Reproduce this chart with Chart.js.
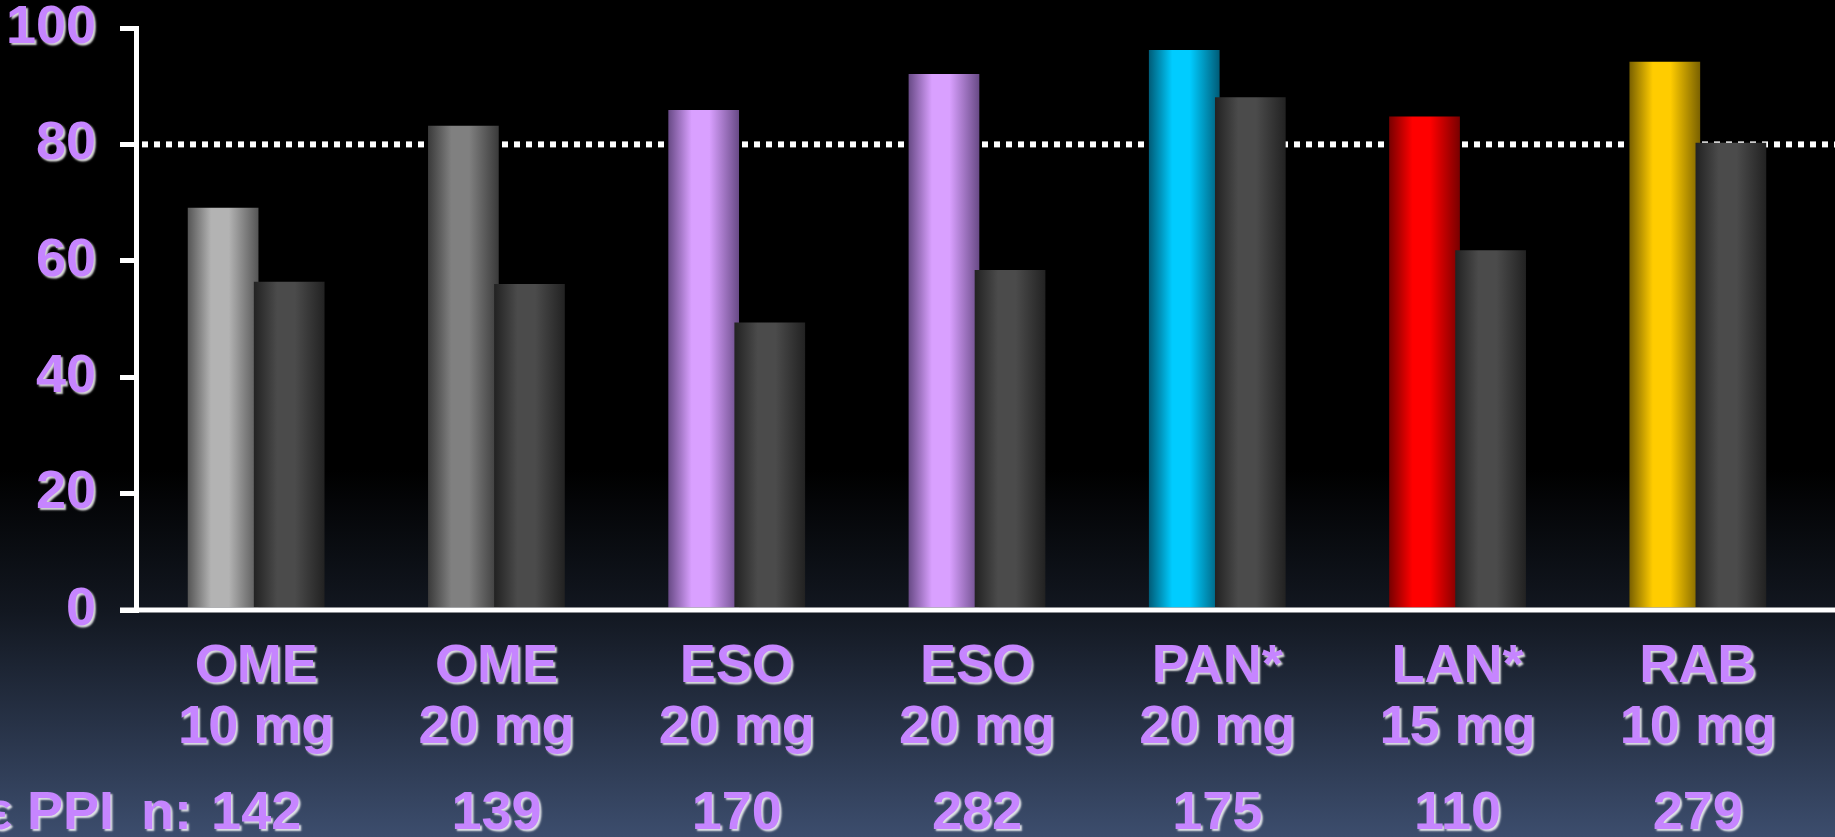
<!DOCTYPE html>
<html>
<head>
<meta charset="utf-8">
<script src="https://cdn.jsdelivr.net/npm/chart.js@4/dist/chart.umd.min.js"></script>
<style>
  html, body { margin: 0; padding: 0; }
  body {
    width: 1835px; height: 837px; overflow: hidden;
    background: linear-gradient(to bottom, #000 0px, #000 470px, #121720 610px, #3c4d6d 837px);
  }
  canvas { display: block; }
</style>
</head>
<body>
<canvas id="chart" width="1835" height="837"></canvas>
<script>
// data
const drugs = [
  ['OME', '10 mg'], ['OME', '20 mg'], ['ESO', '20 mg'], ['ESO', '20 mg'],
  ['PAN*', '20 mg'], ['LAN*', '15 mg'], ['RAB', '10 mg']
];
const patients = ['142', '139', '170', '282', '175', '110', '279'];
const ppiHealing = [69.1, 83.2, 85.9, 92.1, 96.2, 84.8, 94.2];
const otherHealing = [56.4, 56.0, 49.4, 58.4, 88.1, 61.8, 80.3];
const yTicks = [0, 20, 40, 60, 80, 100];
const targetLine = 80;
const rowLabel = 'σε PPI\u2002n:';

// bar colours (centre highlight / shaded edge)
const ppiMid = ['#b3b3b3', '#808080', '#d9a0ff', '#d9a0ff', '#00ccff', '#ff0000', '#ffcc00'];
const ppiEdge = ['#555555', '#3a3a3a', '#684a86', '#684a86', '#005c78', '#780000', '#7a6100'];
const otherMid = ppiMid.map(() => '#4b4b4b');
const otherEdge = ppiMid.map(() => '#222222');

const PURPLE = '#c685ff';
const FONT = { family: 'Liberation Sans', weight: 'bold', size: 54 };
const CAT_PCT = 0.55;
const BAR_PCT = 1.07;

function cylinder (c, mids, edges) {
  const chart = c.chart, x = chart.scales.x;
  const mid = mids[c.dataIndex], edge = edges[c.dataIndex];
  if (!x || c.type !== 'data') return mid;
  const step = x.getPixelForValue(1) - x.getPixelForValue(0);
  const slot = step * CAT_PCT / 2;
  const centre = x.getPixelForValue(c.dataIndex) + (c.datasetIndex - 0.5) * slot;
  const half = slot * BAR_PCT / 2;
  if (!isFinite(centre) || !isFinite(half) || half <= 0) return mid;
  const g = chart.ctx.createLinearGradient(centre - half, 0, centre + half, 0);
  g.addColorStop(0, edge);
  g.addColorStop(0.33, mid);
  g.addColorStop(0.58, mid);
  g.addColorStop(1, edge);
  return g;
}

function textShadow (ctx) {
  ctx.shadowColor = 'rgba(255,255,255,0.85)';
  ctx.shadowOffsetX = 2;
  ctx.shadowOffsetY = 2;
  ctx.shadowBlur = 2;
}

const slidePlugin = {
  id: 'slide',
  beforeDatasetsDraw (chart) {
    const ctx = chart.ctx, y = chart.scales.y.getPixelForValue(targetLine);
    ctx.save();
    ctx.strokeStyle = '#fff';
    ctx.lineWidth = 6;
    ctx.setLineDash([6, 6]);
    ctx.lineDashOffset = -6;
    ctx.beginPath();
    ctx.moveTo(chart.chartArea.left, y);
    ctx.lineTo(chart.width, y);
    ctx.stroke();
    ctx.restore();
  },
  // draw the datasets ourselves so the grey bar sits over its neighbour
  beforeDatasetDraw () {
    return false;
  },
  afterDatasetsDraw (chart) {
    const ctx = chart.ctx;
    chart.data.datasets.forEach((ds, i) => {
      chart.getDatasetMeta(i).data.forEach(bar => bar.draw(ctx));
    });
    const y0 = chart.scales.y.getPixelForValue(0);
    ctx.save();
    ctx.strokeStyle = '#fff';
    ctx.lineWidth = 5;
    ctx.beginPath();
    ctx.moveTo(chart.chartArea.left - 16, y0);
    ctx.lineTo(chart.width, y0);
    ctx.stroke();
    ctx.restore();
    textShadow(ctx); // picked up by the tick labels drawn next
  },
  afterDraw (chart) {
    const ctx = chart.ctx, x = chart.scales.x;
    ctx.save();
    textShadow(ctx);
    ctx.fillStyle = PURPLE;
    ctx.font = 'bold 54px "Liberation Sans"';
    ctx.textBaseline = 'middle';
    ctx.textAlign = 'center';
    patients.forEach((n, i) => ctx.fillText(n, x.getPixelForValue(i), 814));
    ctx.textAlign = 'right';
    ctx.fillText(rowLabel, 192, 814);
    ctx.restore();
    ctx.shadowColor = 'rgba(0,0,0,0)';
    ctx.shadowOffsetX = 0;
    ctx.shadowOffsetY = 0;
    ctx.shadowBlur = 0;
  }
};

new Chart(document.getElementById('chart'), {
  type: 'bar',
  data: {
    labels: drugs,
    datasets: [
      {
        data: ppiHealing,
        backgroundColor: c => cylinder(c, ppiMid, ppiEdge),
        borderWidth: 0,
        categoryPercentage: CAT_PCT,
        barPercentage: BAR_PCT
      },
      {
        data: otherHealing,
        backgroundColor: c => cylinder(c, otherMid, otherEdge),
        borderWidth: 0,
        categoryPercentage: CAT_PCT,
        barPercentage: BAR_PCT
      }
    ]
  },
  options: {
    responsive: false,
    animation: false,
    devicePixelRatio: 1,
    layout: { padding: { top: 0, right: 17, left: 0, bottom: 0 } },
    plugins: { legend: { display: false }, tooltip: { enabled: false } },
    scales: {
      x: {
        grid: { display: false, drawTicks: false },
        border: { display: false },
        ticks: { color: PURPLE, font: Object.assign({}, FONT, { lineHeight: 1.13 }), padding: 27, maxRotation: 0, autoSkip: false, z: 1 },
        afterFit: s => { s.height = 227; }
      },
      y: {
        min: 0,
        max: 100,
        afterBuildTicks: s => { s.ticks = yTicks.map(v => ({ value: v })); },
        grid: { drawOnChartArea: false, color: '#fff', lineWidth: 5, tickLength: 16 },
        border: { color: '#fff', width: 5 },
        ticks: { color: PURPLE, font: FONT, padding: 24, z: 1 },
        afterFit: s => { s.width = 136; s.paddingTop = 28; s.paddingBottom = 0; }
      }
    }
  },
  plugins: [slidePlugin]
});
</script>
</body>
</html>
